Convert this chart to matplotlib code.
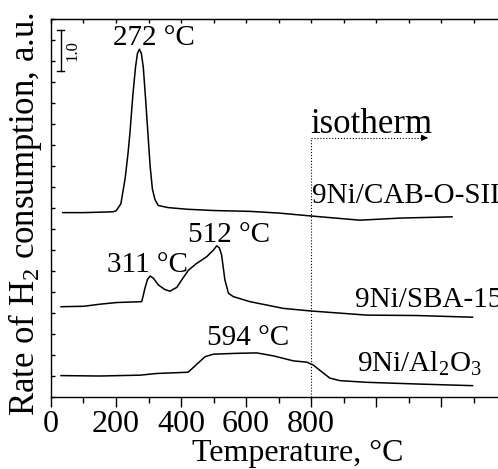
import matplotlib
matplotlib.use("Agg")
import matplotlib.pyplot as plt
from matplotlib.ticker import MultipleLocator

plt.rcParams['font.family'] = ['Liberation Serif', 'DejaVu Serif']
plt.rcParams['mathtext.fontset'] = 'custom'
plt.rcParams['mathtext.rm'] = 'Liberation Serif'
plt.rcParams['mathtext.it'] = 'Liberation Serif:italic'

# TPR traces (temperature, signal in a.u. with offsets)
cab_t = [36, 100, 150, 190, 200, 215, 228, 237, 243, 252, 260, 266, 272, 278, 284,
         291, 298, 305, 312, 320, 330, 360, 420, 500, 612, 700, 800, 950, 1074, 1234]
cab_h = [4.39, 4.39, 4.40, 4.41, 4.43, 4.6, 5.2, 5.8, 6.3, 7.2, 7.85, 8.18, 8.28, 8.18, 7.85,
         7.1, 6.3, 5.5, 4.95, 4.7, 4.56, 4.51, 4.47, 4.44, 4.42, 4.38, 4.31, 4.21, 4.26, 4.29]

sba_t = [31, 100, 151, 203, 279, 284, 289, 297, 305, 315, 330, 350, 366, 387, 405,
         423, 448, 479, 500, 510, 518, 525, 535, 546, 561, 612, 715, 797, 971, 1125, 1297]
sba_h = [2.15, 2.16, 2.21, 2.25, 2.27, 2.42, 2.59, 2.80, 2.88, 2.83, 2.67, 2.56, 2.52, 2.61, 2.82,
         3.02, 3.18, 3.34, 3.50, 3.60, 3.55, 3.38, 2.79, 2.47, 2.39, 2.27, 2.11, 2.05, 1.95, 1.94, 1.90]

al_t = [31, 150, 274, 325, 422, 443, 474, 500, 571, 633, 684, 746, 787, 807, 833,
        858, 889, 971, 1125, 1297]
al_h = [0.51, 0.50, 0.52, 0.56, 0.59, 0.74, 0.96, 1.02, 1.04, 1.05, 0.98, 0.86, 0.83, 0.76, 0.60,
        0.45, 0.39, 0.35, 0.31, 0.27]

peak_labels = ['272 °C', '311 °C', '512 °C', '594 °C']
peak_pos = [(191, 8.38), (172, 2.98), (422, 3.69), (480, 1.24)]
sample_labels = ['9Ni/CAB-O-SIL', '9Ni/SBA-15', '9Ni/Al$_2$O$_3$']
sample_pos = [(802, 4.61), (935, 2.15), (942, 0.60)]

fig = plt.figure(figsize=(4.98, 4.69), dpi=100)
ax = fig.add_axes([0.1024, 0.1535, 0.9137, 0.806])

for t, h in [(cab_t, cab_h), (sba_t, sba_h), (al_t, al_h)]:
    ax.plot(t, h, color='black', lw=1.1)

for txt, (x, y) in zip(peak_labels, peak_pos):
    ax.text(x, y, txt, fontsize=21, va='baseline', ha='left')
for txt, (x, y) in zip(sample_labels, sample_pos):
    ax.text(x, y, txt, fontsize=21, va='baseline', ha='left')

# isotherm marker
ax.plot([800, 800], [0, 6.17], color='black', lw=0.8, ls=':')
ax.plot([800, 1150], [6.17, 6.17], color='black', lw=0.8, ls=':')
ax.annotate('', xy=(1168, 6.17), xytext=(1145, 6.17),
            arrowprops=dict(arrowstyle='-|>', color='black', lw=0.8, mutation_scale=9))
ax.text(797, 6.28, 'isotherm', fontsize=25, va='baseline', ha='left')

# scale bar
ax.plot([30, 30], [7.77, 8.74], color='black', lw=1)
ax.plot([20, 40], [7.77, 7.77], color='black', lw=1)
ax.plot([20, 40], [8.74, 8.74], color='black', lw=1)
ax.text(66, 8.26, '1.0', rotation=90, fontsize=12, va='center', ha='center')

ax.set_xlim(0, 1400)
ax.set_ylim(0, 9)
ax.xaxis.set_minor_locator(MultipleLocator(100))
ax.yaxis.set_major_locator(MultipleLocator(0.5))
ax.set_xticks(range(0, 1400, 200))
ax.set_xticklabels(['0', '200', '400', '600', '800', '', ''])
ax.set_yticklabels([])
ax.tick_params(axis='x', which='major', direction='out', length=7, width=1, labelsize=23, top=False, pad=2)
ax.tick_params(axis='x', which='minor', direction='out', length=4, width=1, top=False)
ax.tick_params(axis='y', which='major', direction='in', length=3, width=1)

# top spine ticks pointing inward
top = ax.secondary_xaxis('top')
top.set_xticks(range(0, 1400, 100))
top.set_xticklabels([])
top.tick_params(direction='in', length=3, width=1)

for s in ax.spines.values():
    s.set_linewidth(1)

ax.set_xlabel('Temperature, °C', fontsize=23)
ax.xaxis.set_label_coords(0.543, -0.112)
ax.set_ylabel('Rate of H$_2$ consumption, a.u.', fontsize=25)
ax.yaxis.set_label_coords(-0.016, 0.484)

fig.savefig('out.png', dpi=100)
